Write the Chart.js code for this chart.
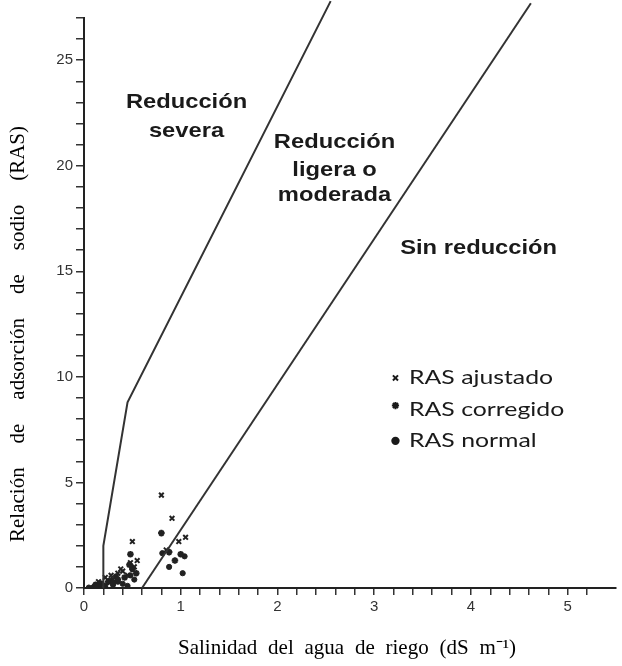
<!DOCTYPE html>
<html><head><meta charset="utf-8">
<script src="https://cdn.jsdelivr.net/npm/chart.js@4.4.0/dist/chart.umd.min.js"></script>
<style>html,body{margin:0;padding:0;background:#fff;}#wrap{width:622px;height:666px;position:relative;}</style>
</head><body><div id="wrap"><canvas id="c"></canvas></div>
<script>
// Boundary lines (salinity dS/m, SAR)
const severaX = [0.2, 0.2, 0.45, 2.55];
const severaY = [0, 2, 8.8, 27.8];
const sinRedX = [0.6, 4.62];
const sinRedY = [0, 27.7];
// Scatter series
const ajustadoX = [0.80, 0.91, 1.05, 0.98, 0.50, 0.48, 0.52, 0.35, 0.28, 0.40, 0.22, 0.15, 0.85, 0.55, 0.30, 0.45, 0.38];
const ajustadoY = [4.4, 3.3, 2.4, 2.2, 2.2, 1.2, 1.0, 0.7, 0.6, 0.8, 0.5, 0.3, 1.8, 1.3, 0.4, 0.6, 0.9];
const corregidoX = [0.80, 0.88, 0.94, 0.48, 0.50, 0.54, 0.35, 0.25, 0.42, 0.18, 1.00, 0.12, 0.30, 0.47];
const corregidoY = [2.6, 1.7, 1.3, 1.6, 0.9, 0.7, 0.4, 0.3, 0.5, 0.2, 1.6, 0.15, 0.25, 1.1];
const normalX = [1.04, 0.81, 0.88, 1.02, 0.48, 0.52, 0.40, 0.30, 0.22, 0.10, 0.05, 0.35, 0.45, 0.15, 0.27, 0.33];
const normalY = [1.5, 1.65, 1.0, 0.7, 0.6, 0.4, 0.2, 0.15, 0.1, 0.05, 0.02, 0.3, 0.1, 0.1, 0.35, 0.55];
// Tick labels
const xTickLabels = ['0', '1', '2', '3', '4', '5'];
const yTickLabels = ['0', '5', '10', '15', '20', '25'];
// Texts
const zoneTexts = [['Reducción', 'severa'], ['Reducción', 'ligera o', 'moderada'], ['Sin reducción']];
const legendTexts = ['RAS ajustado', 'RAS corregido', 'RAS normal'];
const xTitle = 'Salinidad del agua de riego (dS m\u207B\u00B9)';
const yTitle = 'Relación de adsorción de sodio (RAS)';

const zip = (xs, ys) => xs.map((x, i) => ({x, y: ys[i]}));
const INK = '#222';

// Layout of annotation texts (data coordinates) and titles (pixels)
const zonePos = [{x: 1.06, y: [23.0, 21.65]}, {x: 2.59, y: [21.1, 19.8, 18.6]}, {x: 4.08, y: [16.1]}];
const legendPos = {markerX: 3.22, textX: 3.36, y: [9.95, 8.45, 6.97]};
const legendStyles = ['crossRot', 'star', 'circle'];
const titleLayout = {x: {cx: 347, cy: 648, span: 338}, y: {cx: 18, cy: 334, span: 416}};

function drawSpread(ctx, text, cx, cy, span, rot) {
  const words = text.split(' ');
  const ws = words.map(w => ctx.measureText(w).width);
  const total = ws.reduce((a, b) => a + b, 0);
  const gap = (span - total) / (words.length - 1);
  ctx.save();
  ctx.translate(cx, cy);
  ctx.rotate(rot);
  ctx.textAlign = 'left';
  ctx.textBaseline = 'middle';
  let px = -span / 2;
  words.forEach((w, i) => { ctx.fillText(w, px, 0); px += ws[i] + gap; });
  ctx.restore();
}

const annot = {
  id: 'annot',
  afterDatasetsDraw(chart) {
    const {ctx, scales: {x, y}} = chart;
    ctx.save();
    ctx.fillStyle = '#1a1a1a';
    ctx.textBaseline = 'middle';
    ctx.font = 'bold 21px "Liberation Sans", Arial, sans-serif';
    const sx = 1.13;
    zoneTexts.forEach((lines, i) => {
      const p = zonePos[i];
      lines.forEach((t, j) => {
        ctx.save();
        ctx.translate(x.getPixelForValue(p.x), y.getPixelForValue(p.y[j]));
        ctx.scale(sx, 1);
        ctx.textAlign = 'center';
        ctx.fillText(t, 0, 0);
        ctx.restore();
      });
    });
    ctx.font = '20px Lato, "Open Sans", sans-serif';
    legendTexts.forEach((t, i) => {
      const py = y.getPixelForValue(legendPos.y[i]);
      ctx.save();
      ctx.translate(x.getPixelForValue(legendPos.textX), py);
      ctx.scale(1.24, 1);
      ctx.textAlign = 'left';
      ctx.fillText(t, 0, 0);
      ctx.restore();
      ctx.strokeStyle = '#1a1a1a';
      ctx.fillStyle = '#1a1a1a';
      ctx.lineWidth = 2;
      Chart.helpers.drawPoint(ctx, {pointStyle: legendStyles[i], radius: i === 2 ? 3.2 : 3.6, borderWidth: 2}, x.getPixelForValue(legendPos.markerX), py - (i === 1 ? 4 : 0));
    });
    // Axis titles
    ctx.fillStyle = '#000';
    ctx.font = '21px "Liberation Serif", "Times New Roman", serif';
    drawSpread(ctx, xTitle, titleLayout.x.cx, titleLayout.x.cy, titleLayout.x.span, 0);
    drawSpread(ctx, yTitle, titleLayout.y.cx, titleLayout.y.cy, titleLayout.y.span, -Math.PI / 2);
    ctx.restore();
  }
};

const isMult = (v, s) => Math.abs(v / s - Math.round(v / s)) < 1e-6;

new Chart(document.getElementById('c'), {
  type: 'scatter',
  data: {
    datasets: [
      {label: 'Reducción severa', data: zip(severaX, severaY), showLine: true, borderColor: '#333', borderWidth: 2, pointRadius: 0, clip: false, tension: 0},
      {label: 'Sin reducción', data: zip(sinRedX, sinRedY), showLine: true, borderColor: '#333', borderWidth: 2, pointRadius: 0, clip: false},
      {label: legendTexts[0], data: zip(ajustadoX, ajustadoY), pointStyle: 'crossRot', pointRadius: 3.3, borderColor: INK, backgroundColor: INK, pointBorderWidth: 2},
      {label: legendTexts[1], data: zip(corregidoX, corregidoY), pointStyle: 'star', pointRadius: 3.3, borderColor: INK, backgroundColor: INK, pointBorderWidth: 2},
      {label: legendTexts[2], data: zip(normalX, normalY), pointStyle: 'circle', pointRadius: 2.6, borderColor: INK, backgroundColor: INK, pointBorderWidth: 1}
    ]
  },
  options: {
    responsive: true, maintainAspectRatio: false, animation: false,
    layout: {padding: {left: 0, right: 2, top: 18, bottom: 0}},
    plugins: {legend: {display: false}, tooltip: {enabled: false}},
    scales: {
      x: {
        type: 'linear', min: 0, max: 5.5,
        afterBuildTicks: s => { s.ticks = s.ticks.filter(t => isMult(t.value, 0.2)); },
        afterFit: s => { s.height = 78; },
        ticks: {stepSize: 0.2, autoSkip: false, maxRotation: 0, padding: 3, color: '#333',
          font: {family: '"Liberation Sans", Arial, sans-serif', size: 15},
          callback: v => isMult(v, 1) ? xTickLabels[Math.round(v)] : ''},
        grid: {drawOnChartArea: false, drawTicks: true, tickLength: 7, color: '#333', lineWidth: 1.5},
        border: {display: true, color: '#222', width: 2},
        title: {display: false, text: xTitle}
      },
      y: {
        type: 'linear', min: 0, max: 27,
        afterFit: s => { s.width = 84; },
        ticks: {stepSize: 1, autoSkip: false, padding: 3, color: '#333',
          font: {family: '"Liberation Sans", Arial, sans-serif', size: 15},
          callback: v => isMult(v, 5) ? yTickLabels[Math.round(v / 5)] : ''},
        grid: {drawOnChartArea: false, drawTicks: true, tickLength: 8, color: '#333', lineWidth: 1.5},
        border: {display: true, color: '#222', width: 2},
        title: {display: false, text: yTitle}
      }
    }
  },
  plugins: [annot]
});
</script></body></html>
